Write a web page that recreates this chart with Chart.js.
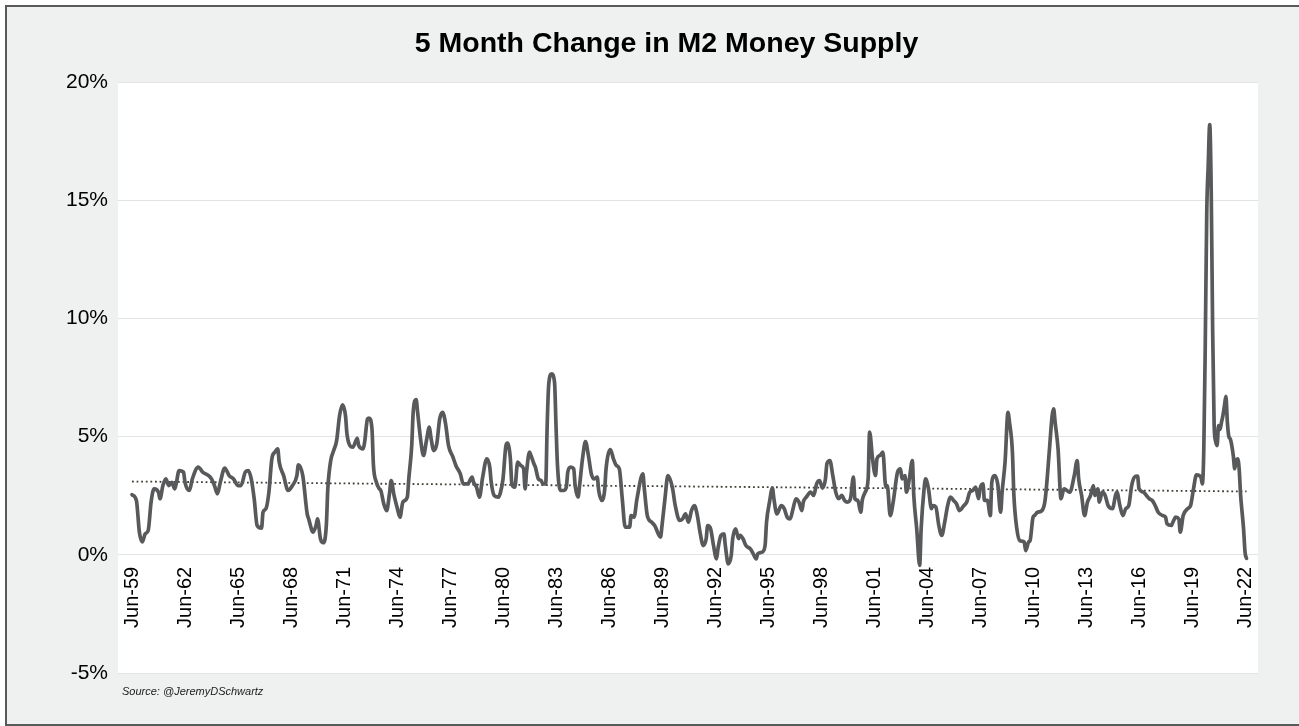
<!DOCTYPE html>
<html>
<head>
<meta charset="utf-8">
<script src="https://cdn.jsdelivr.net/npm/chart.js@4.4.1/dist/chart.umd.min.js"></script>
<style>
  html, body { margin: 0; padding: 0; background: #fff; overflow: hidden; }
  .frame {
    position: absolute; left: 5px; top: 5px;
    width: 1300px; height: 717px;
    border: 2px solid #58595b;
    background: #eff1f0;
  }
  #m2Chart { position: absolute; left: 0; top: 0; }
</style>
</head>
<body>
<div class="frame"></div>
<canvas id="m2Chart" width="1299" height="726"></canvas>
<script>
// months after Jun-59 (0 = Jun-59) and the 5 month % change
const months = [
  0, 3, 5, 7, 9, 11, 13, 15, 18, 19, 21, 23, 25, 27, 29, 30, 32, 35, 36, 39,
  41, 45, 48, 52, 54, 56, 58, 60, 63, 66, 69, 72, 74, 77, 79, 81, 83, 85, 88, 89,
  91, 93, 95, 97, 99, 100, 103, 106, 109, 112, 113, 116, 119, 120, 123, 125, 126, 128, 130, 132,
  133, 135, 137, 139, 141, 143, 145, 146, 148, 150, 153, 154, 157, 158, 160, 161, 163, 164, 166, 168,
  169, 171, 173, 175, 176, 178, 180, 182, 184, 187, 188, 190, 191, 193, 194, 196, 198, 200, 202, 203,
  205, 207, 209, 211, 213, 215, 218, 220, 223, 225, 228, 231, 232, 234, 236, 238, 241, 243, 244, 246,
  249, 250, 252, 254, 255, 257, 258, 260, 262, 264, 266, 267, 268, 270, 271, 273, 274, 276, 278, 279,
  281, 282, 283, 285, 287, 288, 289, 291, 293, 295, 296, 298, 300, 301, 303, 304, 306, 308, 310, 312,
  314, 316, 317, 319, 321, 322, 325, 327, 329, 331, 333, 335, 338, 339, 341, 343, 347, 348, 350, 353,
  355, 359, 360, 362, 364, 367, 369, 372, 374, 376, 378, 380, 382, 384, 386, 388, 390, 391, 393, 395,
  397, 398, 400, 402, 403, 405, 407, 408, 410, 412, 413, 415, 417, 420, 422, 424, 425, 428, 430, 431,
  433, 435, 436, 438, 441, 443, 445, 447, 449, 451, 453, 455, 456, 458, 461, 463, 465, 467, 469, 471,
  472, 474, 476, 478, 480, 482, 484, 486, 488, 490, 491, 493, 495, 496, 498, 500, 501, 503, 505, 506,
  508, 510, 512, 513, 515, 517, 520, 522, 523, 525, 526, 528, 530, 531, 533, 535, 536, 538, 539, 541,
  543, 544, 546, 548, 550, 552, 554, 556, 558, 560, 562, 565, 567, 569, 571, 573, 575, 576, 578, 579,
  581, 583, 584, 586, 588, 590, 591, 593, 595, 596, 598, 599, 601, 603, 606, 607, 609, 610, 612, 613,
  615, 618, 620, 621, 623, 625, 626, 627, 629, 631, 633, 635, 637, 640, 642, 643, 645, 647, 649, 651,
  653, 654, 656, 657, 659, 661, 663, 666, 668, 669, 671, 673, 675, 677, 679, 681, 683, 684, 687, 689,
  691, 693, 695, 697, 700, 702, 703, 706, 707, 709, 711, 712, 714, 717, 719, 721, 723, 726, 727, 728,
  729, 730, 731, 732, 733, 734, 735, 736, 737, 738, 739, 740, 741, 742, 743, 744, 745, 746, 747, 748,
  749, 750, 751, 752, 753, 754, 755, 756, 757
];
const m2Change = [
  2.54, 2.30, 0.97, 0.55, 0.89, 1.03, 2.24, 2.79, 2.65, 2.37, 2.93, 3.21, 2.93, 3.07, 2.79, 3.00, 3.56, 3.50, 3.07, 2.72,
  3.21, 3.71, 3.50, 3.35, 3.21, 2.93, 2.58, 3.07, 3.67, 3.35, 3.21, 2.93, 2.93, 3.50, 3.56, 3.21, 2.37, 1.24, 1.13, 1.80,
  1.95, 2.65, 4.06, 4.34, 4.48, 3.92, 3.35, 2.72, 2.93, 3.35, 3.81, 3.35, 1.73, 1.52, 0.96, 1.24, 1.52, 0.68, 0.51, 1.24,
  2.79, 3.99, 4.41, 4.83, 5.89, 6.34, 5.89, 5.12, 4.62, 4.55, 4.93, 4.62, 4.48, 4.76, 5.75, 5.78, 5.33, 3.78, 3.07, 2.79,
  2.72, 2.16, 1.87, 2.65, 3.14, 2.51, 2.02, 1.59, 2.23, 2.44, 3.21, 4.62, 6.03, 6.57, 6.03, 4.90, 4.20, 4.83, 5.40, 4.98,
  4.41, 4.69, 5.75, 6.03, 5.54, 4.62, 4.13, 3.78, 3.42, 3.00, 3.00, 3.29, 3.07, 2.86, 2.44, 3.21, 4.06, 3.71, 3.07, 2.51,
  2.44, 2.58, 3.21, 4.62, 4.72, 4.06, 3.00, 2.86, 3.92, 3.78, 3.64, 2.79, 3.50, 4.34, 4.20, 3.85, 3.71, 3.21, 3.14, 3.00,
  3.00, 5.47, 7.16, 7.65, 7.30, 5.47, 3.78, 2.72, 2.72, 2.86, 3.50, 3.71, 3.64, 2.93, 2.44, 2.93, 4.06, 4.79, 4.20, 3.42,
  3.21, 3.29, 2.72, 2.30, 2.72, 3.64, 4.45, 4.06, 3.78, 3.64, 2.37, 1.17, 1.17, 1.66, 1.59, 2.37, 3.42, 2.79, 1.66, 1.38,
  1.24, 0.75, 1.24, 2.37, 3.35, 2.86, 2.08, 1.45, 1.52, 1.73, 1.38, 1.87, 2.08, 1.66, 0.89, 0.39, 0.68, 1.24, 1.10, 0.39,
  -0.17, 0.25, 0.82, 0.89, 0.39, -0.38, -0.03, 0.68, 1.10, 0.68, 0.82, 0.68, 0.39, 0.25, 0.04, -0.17, 0.04, 0.11, 0.39, 1.38,
  2.23, 2.82, 2.37, 1.73, 2.08, 1.95, 1.59, 1.52, 1.95, 2.37, 2.23, 1.87, 2.23, 2.44, 2.65, 2.51, 3.00, 3.14, 2.82, 3.21,
  3.85, 3.99, 3.35, 2.65, 2.37, 2.51, 2.30, 2.23, 2.37, 3.29, 2.37, 2.30, 1.80, 2.30, 2.65, 3.21, 5.19, 4.06, 3.35, 4.06,
  4.20, 4.34, 2.86, 2.93, 1.66, 2.23, 3.50, 3.64, 3.21, 3.35, 2.65, 3.21, 3.99, 2.51, 1.10, -0.45, 1.10, 2.79, 3.21, 2.79,
  1.95, 2.08, 2.02, 1.24, 0.82, 1.38, 2.08, 2.44, 2.30, 2.16, 1.87, 2.08, 2.23, 2.65, 2.72, 2.86, 2.37, 2.79, 3.00, 2.30,
  2.30, 1.66, 3.07, 3.35, 3.00, 1.80, 2.65, 3.92, 6.03, 5.61, 4.34, 2.51, 1.10, 0.60, 0.54, 0.18, 0.54, 0.60, 1.59, 1.66,
  1.80, 1.87, 2.23, 2.79, 4.34, 5.89, 6.17, 5.61, 4.48, 2.37, 2.79, 2.72, 2.65, 3.35, 3.99, 3.21, 2.51, 1.66, 2.23, 2.50,
  2.93, 2.51, 2.79, 2.23, 2.65, 2.51, 2.08, 1.95, 2.51, 2.65, 2.08, 1.66, 1.95, 2.08, 2.93, 3.29, 3.33, 2.79, 2.65, 2.51,
  2.37, 2.30, 2.08, 1.80, 1.66, 1.59, 1.31, 1.24, 1.38, 1.59, 1.52, 0.96, 1.66, 1.95, 2.08, 2.79, 3.38, 3.29, 3.00, 4.50,
  9.00, 14.50, 16.50, 18.20, 15.50, 9.50, 5.50, 4.80, 4.62, 5.47, 5.30, 5.60, 5.90, 6.30, 6.70, 5.60, 5.00, 4.90, 4.62, 4.20,
  3.64, 4.00, 4.06, 3.64, 2.51, 1.80, 1.10, 0.11, -0.15
];

// dotted linear trend, start and end as drawn
const trendMonths = [0, 757];
const trendValues = [3.10, 2.68];

const tickLabels = [
  "Jun-59", "Jun-62", "Jun-65", "Jun-68", "Jun-71", "Jun-74", "Jun-77", "Jun-80",
  "Jun-83", "Jun-86", "Jun-89", "Jun-92", "Jun-95", "Jun-98", "Jun-01", "Jun-04",
  "Jun-07", "Jun-10", "Jun-13", "Jun-16", "Jun-19", "Jun-22"
];
const tickStep = 36;

const titleText = "5 Month Change in M2 Money Supply";
const sourceText = "Source: @JeremyDSchwartz";

Chart.defaults.font.family = "'Liberation Sans', Arial, Helvetica, sans-serif";
Chart.defaults.color = "#111";

// white plot area on the grey card
const plotBackground = {
  id: "plotBackground",
  beforeDraw(chart) {
    const { ctx, chartArea } = chart;
    ctx.save();
    ctx.fillStyle = "#ffffff";
    ctx.fillRect(chartArea.left, chartArea.top, chartArea.right - chartArea.left, chartArea.bottom - chartArea.top);
    ctx.restore();
  }
};

const sourceNote = {
  id: "sourceNote",
  afterDraw(chart) {
    const { ctx, chartArea } = chart;
    ctx.save();
    ctx.font = "italic 11px 'Liberation Sans', Arial, sans-serif";
    ctx.fillStyle = "#1a1a1a";
    ctx.textBaseline = "middle";
    ctx.fillText(sourceText, chartArea.left + 4, chartArea.bottom + 19);
    ctx.restore();
  }
};

const ctx = document.getElementById("m2Chart").getContext("2d");

new Chart(ctx, {
  type: "line",
  data: {
    datasets: [
      {
        label: "Trend",
        data: trendMonths.map((m, i) => ({ x: m, y: trendValues[i] })),
        borderColor: "#3f3f36",
        borderWidth: 1.8,
        borderDash: [1.8, 2.8],
        pointRadius: 0,
        fill: false,
        order: 2
      },
      {
        label: "5 Month Change",
        data: months.map((m, i) => ({ x: m, y: m2Change[i] })),
        borderColor: "#58595b",
        borderWidth: 3.7,
        borderJoinStyle: "round",
        borderCapStyle: "round",
        cubicInterpolationMode: "monotone",
        pointRadius: 0,
        fill: false,
        order: 1
      }
    ]
  },
  options: {
    responsive: false,
    animation: false,
    devicePixelRatio: 1,
    // left padding + empty right axis keep the title centred where the original has it
    layout: { padding: { left: 34, right: 0, top: 0, bottom: 53 } },
    plugins: {
      legend: { display: false },
      tooltip: { enabled: false },
      title: {
        display: true,
        text: titleText,
        color: "#000",
        font: { size: 28.5, weight: "bold" },
        padding: { top: 27, bottom: 20.8 }
      }
    },
    scales: {
      x: {
        type: "linear",
        min: -9.5,
        max: 764.8,
        position: { y: 0 },
        grid: { display: false, drawTicks: false },
        border: { display: false },
        afterBuildTicks: scale => {
          scale.ticks = tickLabels.map((_, i) => ({ value: i * tickStep }));
        },
        ticks: {
          autoSkip: false,
          minRotation: 90,
          maxRotation: 90,
          padding: 12,
          color: "#000",
          font: { size: 20 },
          callback: v => tickLabels[Math.round(v / tickStep)]
        }
      },
      y: {
        min: -5,
        max: 20,
        grid: { color: "#e2e3e2", lineWidth: 1, drawTicks: false },
        border: { display: false },
        afterFit: scale => { scale.width = 84; },
        ticks: {
          stepSize: 5,
          padding: 10,
          color: "#000",
          font: { size: 21 },
          callback: v => v + "%"
        }
      },
      spacer: {
        position: "right",
        grid: { display: false, drawTicks: false },
        border: { display: false },
        ticks: { display: false },
        afterFit: scale => { scale.width = 41; }
      }
    }
  },
  plugins: [plotBackground, sourceNote]
});
</script>
</body>
</html>
